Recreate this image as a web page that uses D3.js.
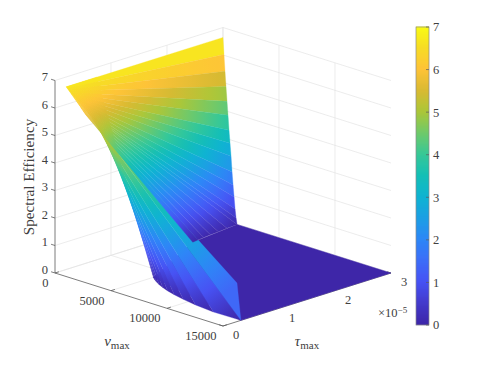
<!DOCTYPE html>
<html>
<head>
<meta charset="utf-8">
<script src="https://cdn.jsdelivr.net/npm/d3@7"></script>
<style>
  body { margin: 0; background: #fff; }
  text { font-family: "Liberation Serif", serif; fill: #404040; }
</style>
</head>
<body>
<svg id="chart" width="488" height="366"><defs></defs></svg>
<script>
// tick labels
const nuTicks = [0, 5000, 10000, 15000];
const tauTicks = [0, 1, 2, 3];
const zTicks = [0, 1, 2, 3, 4, 5, 6, 7];

// parula, every half unit
const parulaStops = [0, 0.5, 1, 1.5, 2, 2.5, 3, 3.5, 4, 4.5, 5, 5.5, 6, 6.5, 7];
const parula = ["#3e26a8", "#433acb", "#4752f4", "#3d6df8", "#2d87f7", "#1c9fe4", "#0fb3d2", "#14bfb6", "#37c897", "#6fc96a", "#abc739", "#d9ba32", "#fec338", "#f7dc25", "#f9fb14"];

// back of the surface: lines of constant nu, tau runs from backTauStart to backTauEnd
const backTauStart = 0.2;
const backNu = [0, 90, 180, 270, 360, 450, 540, 630, 720, 810, 900, 990, 1080, 1170, 1260, 1350, 1440, 1530, 1620, 1710, 1800];
const backStartZ = [6.64, 6.6, 6.56, 6.52, 6.48, 6.44, 6.4, 6.36, 6.32, 6.28, 6.24, 6.2, 6.16, 6.12, 6.08, 6.03, 5.99, 5.95, 5.91, 5.87, 5.83];
const backEndTau = [3, 3, 3, 3, 3, 3, 3, 3, 3, 3, 3, 3, 3, 3, 3, 2.8, 2.63, 2.47, 2.33, 2.21, 2.1];
const backEndZ = [6.64, 6.03, 5.43, 4.89, 4.36, 3.87, 3.33, 2.87, 2.41, 1.85, 1.39, 0.96, 0.54, 0.22, 0, 0, 0, 0, 0, 0, 0];

// front of the surface: lines of nearly constant tau, nu runs from 0 to frontEndNu
const frontStartZ = 6.64;
const frontTau = [0.2, 0.25, 0.3, 0.35, 0.4, 0.45, 0.5, 0.55, 0.6, 0.65, 0.7, 0.75];
const frontEndTau = [0.25, 0.32, 0.31, 0.35, 0.4, 0.45, 0.5, 0.55, 0.6, 0.65, 0.7, 0.75];
const frontEndNu = [15000, 15000, 12600, 10800, 9450, 8400, 7560, 6870, 6300, 5820, 5400, 5040];
const frontMidZ = [3.9, 3.3, 3.3, 3.3, 3.3, 3.3, 3.3, 3.3, 3.3, 3.3, 3.3, 3.3];
const frontEndZ = [1.4, 0, 0, 0, 0, 0, 0, 0, 0, 0, 0, 0];

// flat part where the efficiency is zero: nu, tau
const floorNu = [1260, 15000, 15000, 5040, 1800];
const floorTau = [3, 3, 0.32, 0.75, 2.1];

const svg = d3.select("#chart");
const defs = svg.select("defs");

// oblique 3D box, each data axis adds its own pixel offset
const originX = 55, originY = 273;
const nuX = d3.scaleLinear().domain([0, 15000]).range([0, 168]);
const nuY = d3.scaleLinear().domain([0, 15000]).range([0, 53]);
const tauX = d3.scaleLinear().domain([0, 3]).range([0, 168]);
const tauY = d3.scaleLinear().domain([0, 3]).range([0, -53]);
const zY = d3.scaleLinear().domain([0, 7]).range([0, -192.5]);

const color = d3.scaleLinear().domain(parulaStops).range(parula).clamp(true);

function project(nu, tau, z) {
    return [originX + nuX(nu) + tauX(tau), originY + nuY(nu) + tauY(tau) + zY(z)];
}

const line = d3.line();

function drawLine(from, to, stroke, width) {
    svg.append("path")
        .attr("d", line([project(...from), project(...to)]))
        .attr("fill", "none")
        .attr("stroke", stroke)
        .attr("stroke-width", width);
}

// grid on the two back walls and the floor
const gridColor = "#e4e4e4";
zTicks.forEach(z => {
    drawLine([0, 0, z], [0, 3, z], gridColor, 0.7);
    drawLine([0, 3, z], [15000, 3, z], gridColor, 0.7);
});
tauTicks.slice(1).forEach(t => {
    drawLine([0, t, 0], [0, t, 7], gridColor, 0.7);
    drawLine([0, t, 0], [15000, t, 0], gridColor, 0.7);
});
nuTicks.slice(0, 3).forEach(n => {
    drawLine([n, 3, 0], [n, 3, 7], gridColor, 0.7);
    drawLine([n, 0, 0], [n, 3, 0], gridColor, 0.7);
});

// axes and ticks
const axisColor = "#5a5a5a";
drawLine([0, 0, 0], [0, 0, 7], axisColor, 0.8);
drawLine([0, 0, 0], [15000, 0, 0], axisColor, 0.8);
drawLine([15000, 0, 0], [15000, 3, 0], axisColor, 0.8);
nuTicks.forEach(n => drawLine([n, 0, 0], [n, 0.07, 0], axisColor, 0.8));
tauTicks.forEach(t => drawLine([15000, t, 0], [14650, t, 0], axisColor, 0.8));
zTicks.forEach(z => drawLine([0, 0, z], [-350, 0, z], axisColor, 0.8));

// band between two rays (lists of [nu, tau, z] nodes), filled with a gradient
// that follows the z of the first ray from its start to its end
let stripId = 0;
function drawStrip(nodesA, nodesB) {
    const id = "strip" + stripId++;
    const first = project(...nodesA[0]), last = project(...nodesA[nodesA.length - 1]);
    const u = nodesA.map((d, i) => i / (nodesA.length - 1));
    const zAt = d3.scaleLinear().domain(u).range(nodesA.map(d => d[2]));

    const grad = defs.append("linearGradient")
        .attr("id", id)
        .attr("gradientUnits", "userSpaceOnUse")
        .attr("x1", first[0]).attr("y1", first[1])
        .attr("x2", last[0]).attr("y2", last[1]);
    grad.selectAll("stop")
        .data(d3.range(0, 1.001, 0.05))
        .enter().append("stop")
        .attr("offset", d => d)
        .attr("stop-color", d => color(zAt(d)));

    const outline = nodesA.concat(nodesB.slice().reverse());
    svg.append("path")
        .attr("d", line(outline.map(d => project(...d))) + "Z")
        .attr("fill", "url(#" + id + ")")
        .attr("stroke", "url(#" + id + ")")
        .attr("stroke-width", 0.3);
}

// floor first, everything else stands on it
svg.append("path")
    .attr("d", line(floorNu.map((n, i) => project(n, floorTau[i], 0))) + "Z")
    .attr("fill", color(0))
    .attr("stroke", color(0))
    .attr("stroke-width", 0.4);

// front fan, largest tau first so the ridge at the smallest tau ends on top
const frontRays = frontTau.map((t, i) => [
    [0, t, frontStartZ],
    [frontEndNu[i] / 2, (t + frontEndTau[i]) / 2, frontMidZ[i]],
    [frontEndNu[i], frontEndTau[i], frontEndZ[i]]
]);
for (let i = frontRays.length - 2; i >= 0; i--) {
    drawStrip(frontRays[i], frontRays[i + 1]);
}

// back fan lies above the ridge
const backRays = backNu.map((n, i) => [
    [n, backTauStart, backStartZ[i]],
    [n, backEndTau[i], backEndZ[i]]
]);
for (let i = 0; i < backRays.length - 1; i++) {
    drawStrip(backRays[i], backRays[i + 1]);
}

// tick labels
function label(x, y, txt, anchor) {
    return svg.append("text")
        .attr("x", x)
        .attr("y", y)
        .attr("dy", ".35em")
        .attr("text-anchor", anchor)
        .attr("font-size", 12.5)
        .text(txt);
}

zTicks.forEach(z => label(48, project(0, 0, z)[1] - 3.5, z, "end"));
nuTicks.forEach(n => {
    const p = project(n, 0, 0);
    label(p[0] - 6.5, p[1] + 9.5, n, "end");
});
tauTicks.forEach(t => {
    const p = project(15000, t, 0);
    label(p[0] + 13, p[1] + 9, t, "middle");
});

// exponent of the tau axis
const expo = svg.append("text")
    .attr("x", 378)
    .attr("y", 317)
    .attr("font-size", 12.5)
    .text("×10");
expo.append("tspan")
    .attr("dy", -4)
    .attr("font-size", 9)
    .text("−5");

// axis titles
function mathLabel(x, y, symbol) {
    const t = svg.append("text")
        .attr("x", x)
        .attr("y", y)
        .attr("text-anchor", "middle")
        .attr("font-size", 15);
    t.append("tspan").attr("font-style", "italic").text(symbol);
    t.append("tspan").attr("dy", 2.5).attr("font-size", 11).text("max");
}
mathLabel(117, 346, "ν");
mathLabel(307, 346, "τ");

svg.append("text")
    .attr("transform", "translate(33.5,177) rotate(-90)")
    .attr("text-anchor", "middle")
    .attr("font-size", 15.2)
    .text("Spectral Efficiency");

// colorbar
const barX = 416, barW = 13;
const barY = d3.scaleLinear().domain([0, 7]).range([325, 27]);

svg.append("g").selectAll("rect")
    .data(d3.range(0, 7, 7 / 298))
    .enter().append("rect")
    .attr("x", barX)
    .attr("y", d => barY(d) - 1.5)
    .attr("width", barW)
    .attr("height", 1.6)
    .attr("fill", d => color(d));

svg.append("rect")
    .attr("x", barX)
    .attr("y", 27)
    .attr("width", barW)
    .attr("height", 298)
    .attr("fill", "none")
    .attr("stroke", "#8a8a8a")
    .attr("stroke-width", 0.7);

zTicks.forEach(z => {
    svg.append("line")
        .attr("x1", barX + barW - 3)
        .attr("x2", barX + barW)
        .attr("y1", barY(z))
        .attr("y2", barY(z))
        .attr("stroke", "#5a5a5a")
        .attr("stroke-width", 0.7);
    label(433, barY(z), z, "start");
});
</script>
</body>
</html>
